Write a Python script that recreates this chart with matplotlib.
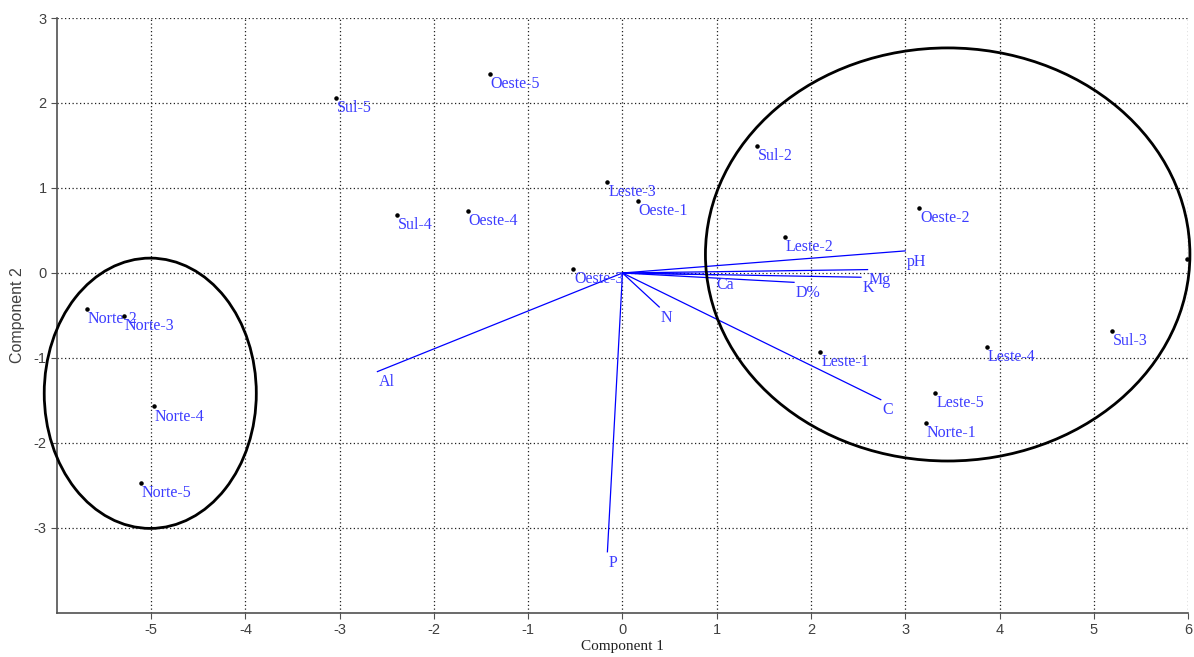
import matplotlib
matplotlib.use("Agg")
import matplotlib.pyplot as plt
from matplotlib.patches import Ellipse

plt.rcParams["axes.unicode_minus"] = False

# Sample scores (the point at the right edge has its label outside the frame)
sample_names = ["Sul-5", "Oeste-5", "Sul-2", "Leste-3", "Oeste-1", "Sul-4", "Oeste-4",
                "Oeste-3", "Leste-2", "Oeste-2", "", "Sul-3", "Leste-4", "Leste-1",
                "Leste-5", "Norte-1", "Norte-2", "Norte-3", "Norte-4", "Norte-5"]
sample_x = [-3.04, -1.41, 1.43, -0.16, 0.16, -2.39, -1.64,
            -0.52, 1.72, 3.15, 5.99, 5.19, 3.87, 2.10,
            3.32, 3.22, -5.68, -5.29, -4.97, -5.11]
sample_y = [2.06, 2.34, 1.49, 1.07, 0.85, 0.68, 0.73,
            0.05, 0.42, 0.76, 0.16, -0.68, -0.87, -0.93,
            -1.41, -1.76, -0.42, -0.51, -1.57, -2.47]

# Variable loadings
var_names = ["pH", "Mg", "K", "D%", "Ca", "N", "C", "Al", "P"]
var_x = [3.00, 2.60, 2.53, 1.82, 0.98, 0.39, 2.74, -2.60, -0.16]
var_y = [0.26, 0.04, -0.05, -0.11, -0.02, -0.40, -1.49, -1.16, -3.28]

# Group ellipses: center x, center y, width, height
ell_cx = [-5.01, 3.45]
ell_cy = [-1.415, 0.218]
ell_w = [2.25, 5.14]
ell_h = [3.18, 4.86]

x_ticks = [-5, -4, -3, -2, -1, 0, 1, 2, 3, 4, 5, 6]
y_ticks = [-3, -2, -1, 0, 1, 2, 3]

fig = plt.figure(figsize=(11.94, 6.57), dpi=100)
ax = fig.add_axes([0.0477, 0.067, 0.9473, 0.9056])
ax.set_xlim(-6, 6)
ax.set_ylim(-4, 3)
ax.set_xticks(x_ticks)
ax.set_yticks(y_ticks)
ax.grid(True, color="#202020", linestyle=(0, (1, 2)), linewidth=0.9)
ax.set_axisbelow(True)
for s in ["top", "right"]:
    ax.spines[s].set_visible(False)
for s in ["left", "bottom"]:
    ax.spines[s].set_color("#505050")
    ax.spines[s].set_linewidth(1.2)
ax.tick_params(direction="out", length=4, color="#505050", labelsize=10.5,
               labelcolor="#404040")
for lab in ax.get_xticklabels() + ax.get_yticklabels():
    lab.set_family("Liberation Sans")

blue_line = "#0000ff"
blue_text = "#3c3cff"

for name, vx, vy in zip(var_names, var_x, var_y):
    ax.plot([0, vx], [0, vy], color=blue_line, linewidth=0.9, zorder=3)
    ax.annotate(name, (vx, vy), xytext=(1, -2), textcoords="offset points",
                ha="left", va="top", color=blue_text, fontsize=11.5,
                family="Liberation Serif", zorder=4)

ax.scatter(sample_x, sample_y, s=5, color="black", zorder=5, clip_on=False)
for name, sx, sy in zip(sample_names, sample_x, sample_y):
    if not name:
        continue
    ax.annotate(name, (sx, sy), xytext=(0.5, -1.5), textcoords="offset points",
                ha="left", va="top", color=blue_text, fontsize=11.5,
                family="Liberation Serif", zorder=4)

for cx, cy, w, h in zip(ell_cx, ell_cy, ell_w, ell_h):
    ax.add_patch(Ellipse((cx, cy), w, h, fill=False, edgecolor="black",
                         linewidth=2, zorder=6, clip_on=False))

ax.set_xlabel("Component 1", family="Liberation Serif", fontsize=11, color="#202020",
              labelpad=2)
ax.set_ylabel("Component 2", family="Liberation Sans", fontsize=11.5, color="#404040",
              labelpad=6)

fig.savefig("out.png", dpi=100)
